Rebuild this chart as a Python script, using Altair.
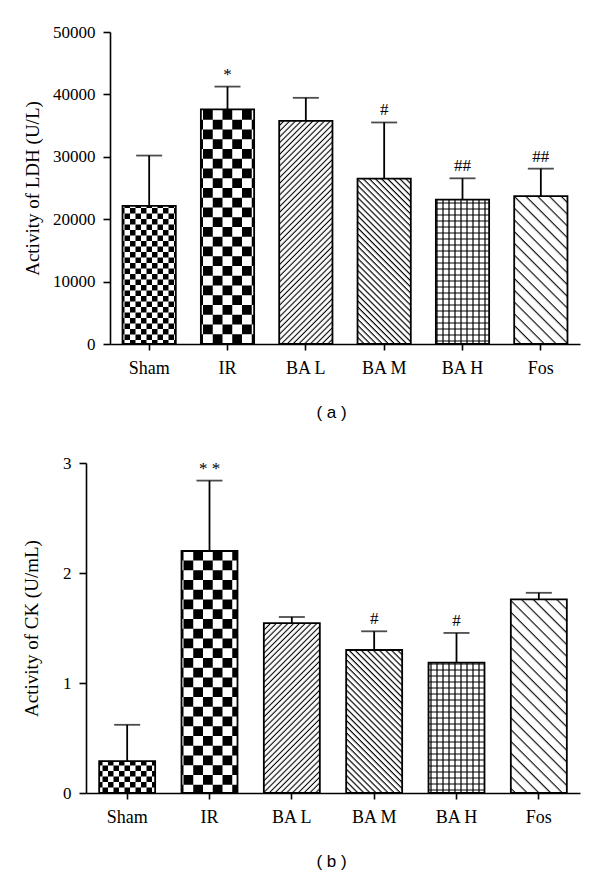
import altair as alt
import pandas as pd
import jinja2

# ---------------- data ----------------
groups = ["Sham", "IR", "BA L", "BA M", "BA H", "Fos"]
patterns = ["url(#pat-sham)", "url(#pat-ir)", "url(#pat-bal)",
            "url(#pat-bam)", "url(#pat-bah)", "url(#pat-fos)"]

ldh_mean = [22150, 37600, 35750, 26500, 23150, 23700]
ldh_sd = [8050, 3650, 3700, 9000, 3400, 4400]
ldh_marks = ["", "*", "", "#", "##", "##"]

ck_mean = [0.29, 2.20, 1.545, 1.30, 1.185, 1.76]
ck_sd = [0.33, 0.64, 0.055, 0.17, 0.27, 0.06]
ck_marks = ["", "* *", "", "#", "#", ""]

SERIF = "Liberation Serif"
SANS = "Liberation Sans"
W = 494


def panel(means, sds, marks, ymax, yticks, ytitle, caption, height,
          title_pad, shift):
    df = pd.DataFrame({
        "group": groups,
        "mean": means,
        "upper": [m + s for m, s in zip(means, sds)],
        "mark": marks,
        "pattern": patterns,
    })
    xscale = alt.Scale(paddingInner=0.32, paddingOuter=0.16, range=[shift, W])
    xenc = alt.X(
        "group:N", sort=groups, scale=xscale,
        axis=alt.Axis(title=caption, labelAngle=0, tickSize=6, labelPadding=9,
                      labelFontSize=18, titleX=245,
                      titlePadding=27, titleFont=SANS, titleFontSize=17,
                      titleFontWeight="normal"),
    )
    yscale = alt.Scale(domain=[0, ymax], nice=False, zero=True)
    yenc = alt.Y(
        "mean:Q", scale=yscale,
        axis=alt.Axis(title=ytitle, values=yticks, format="d", tickSize=7,
                      labelPadding=8, labelFontSize=17, titlePadding=title_pad,
                      titleFont=SERIF, titleFontSize=19,
                      titleFontWeight="normal", offset=-shift),
    )
    xs = alt.X("group:N", sort=groups, scale=xscale)
    base = alt.Chart(df)
    bars = base.mark_bar(stroke="black", strokeWidth=1.8).encode(
        x=xenc, y=yenc, fill=alt.Fill("pattern:N", scale=None)
    )
    err = base.mark_rule(color="black", strokeWidth=1.8).encode(
        x=xs, y="mean:Q", y2="upper:Q"
    )
    cap = base.mark_tick(color="black", thickness=1.8, size=26,
                         orient="horizontal").encode(x=xs, y="upper:Q")
    txt = base.mark_text(baseline="bottom", dy=-3, font=SERIF, fontSize=17,
                         color="black").encode(x=xs, y="upper:Q", text="mark:N")
    return alt.layer(bars, err, cap, txt).properties(width=W, height=height)


pa = panel(ldh_mean, ldh_sd, ldh_marks, 50000,
           [0, 10000, 20000, 30000, 40000, 50000],
           "Activity of LDH (U/L)", "( a )", 312, 10, 24)
pb = panel(ck_mean, ck_sd, ck_marks, 3, [0, 1, 2, 3],
           "Activity of CK (U/mL)", "( b )", 330, 21, 0)

chart = alt.vconcat(pa, pb, spacing=34).properties(
    padding={"left": 14, "top": 15, "right": 5, "bottom": 5}
).configure_view(stroke=None).configure_axis(
    grid=False, domainColor="black", tickColor="black", labelColor="black",
    titleColor="black", domainWidth=1.6, tickWidth=1.6,
    labelFont=SERIF, labelFontSize=17,
)

# page template with SVG fill patterns used by the bars
TEMPLATE = jinja2.Template("""<!DOCTYPE html>
<html>
<head>
<meta charset="utf-8">
<script type="text/javascript" src="{{ base_url }}/vega@{{ vega_version }}"></script>
<script type="text/javascript" src="{{ base_url }}/vega-lite@{{ vegalite_version }}"></script>
<script type="text/javascript" src="{{ base_url }}/vega-embed@{{ vegaembed_version }}"></script>
</head>
<body>
<svg width="0" height="0" style="position:absolute">
<defs>
<pattern id="pat-sham" patternUnits="userSpaceOnUse" width="11" height="11">
<rect width="11" height="11" fill="white"/>
<rect x="0" y="0" width="5.5" height="5.5" fill="black"/>
<rect x="5.5" y="5.5" width="5.5" height="5.5" fill="black"/>
</pattern>
<pattern id="pat-ir" patternUnits="userSpaceOnUse" width="19.5" height="19.5">
<rect width="19.5" height="19.5" fill="white"/>
<rect x="0" y="0" width="9.75" height="9.75" fill="black"/>
<rect x="9.75" y="9.75" width="9.75" height="9.75" fill="black"/>
</pattern>
<pattern id="pat-bal" patternUnits="userSpaceOnUse" width="4.1" height="10" patternTransform="rotate(45)">
<rect width="4.1" height="10" fill="white"/>
<line x1="2" y1="0" x2="2" y2="10" stroke="black" stroke-width="1.1"/>
</pattern>
<pattern id="pat-bam" patternUnits="userSpaceOnUse" width="4.3" height="10" patternTransform="rotate(-45)">
<rect width="4.3" height="10" fill="white"/>
<line x1="2" y1="0" x2="2" y2="10" stroke="black" stroke-width="1.2"/>
</pattern>
<pattern id="pat-bah" patternUnits="userSpaceOnUse" width="6" height="6">
<rect width="6" height="6" fill="white"/>
<path d="M3,0V6M0,3H6" stroke="black" stroke-width="1.2"/>
</pattern>
<pattern id="pat-fos" patternUnits="userSpaceOnUse" width="8.3" height="10" patternTransform="rotate(-45)">
<rect width="8.3" height="10" fill="white"/>
<line x1="4" y1="0" x2="4" y2="10" stroke="black" stroke-width="1.1"/>
</pattern>
</defs>
</svg>
<div id="{{ output_div }}"></div>
<script type="text/javascript">
vegaEmbed("#{{ output_div }}", {{ spec }}, {{ embed_options }}).catch(console.error);
</script>
</body>
</html>
""")

chart.save("out.html", embed_options={"renderer": "svg", "actions": False},
           template=TEMPLATE)
